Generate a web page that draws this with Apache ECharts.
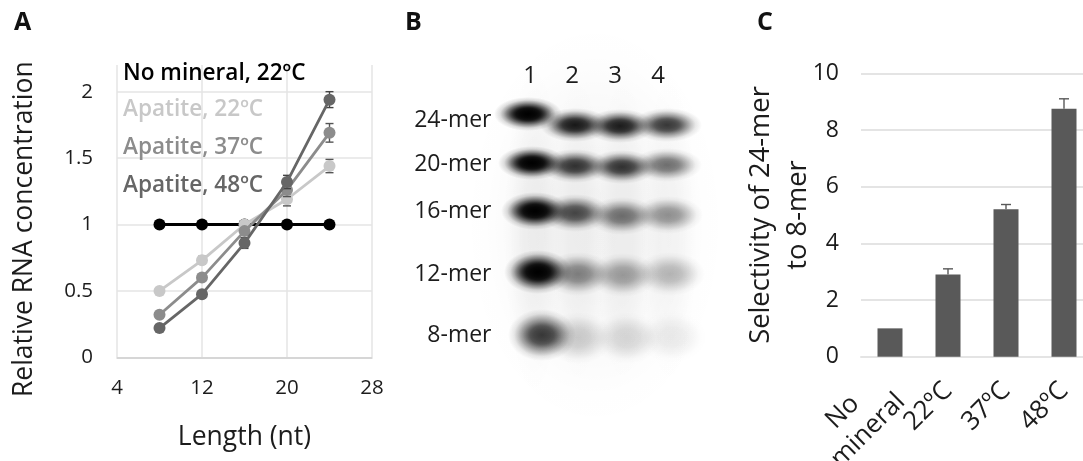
<!DOCTYPE html>
<html><head><meta charset="utf-8">
<script src="https://cdn.jsdelivr.net/npm/echarts@6/dist/echarts.min.js"></script>
<style>html,body{margin:0;padding:0;background:#fff}#c{width:1083px;height:461px;filter:blur(0.45px)}</style>
</head><body><div id="c"></div>
<script>
// Panel A
const lengths = [8, 12, 16, 20, 24];
const noMineral = [1, 1, 1, 1, 1];
const apatite22 = [0.5, 0.73, 1.0, 1.19, 1.44];
const apatite37 = [0.32, 0.6, 0.95, 1.26, 1.69];
const apatite48 = [0.22, 0.475, 0.86, 1.32, 1.94];
const err22 = [0.01, 0.03, 0.01, 0.05, 0.05];
const err37 = [0.01, 0.02, 0.02, 0.05, 0.07];
const err48 = [0.01, 0.02, 0.04, 0.05, 0.06];
const lengthTicks = [4, 12, 20, 28];
const concTicks = [0, 0.5, 1, 1.5, 2];
const merLabels = ['24-mer', '20-mer', '16-mer', '12-mer', '8-mer'];
const merLabelY = [80, 124, 171, 234, 295];
const laneLabels = ['1', '2', '3', '4'];
const laneLabelX = [30, 72, 115, 158];
const laneX = [[28, 32, 35, 38, 42], [75, 75, 75, 78, 78], [120, 122, 122, 123, 127], [167, 167, 168, 170, 172]];
const laneY = [[74, 123, 171, 232, 295], [85, 126, 173, 234, 298], [86, 127, 176, 235, 298], [85, 125, 175, 234, 297]];
const laneDark = [[1, 1, 1, 1, 0.66], [0.8, 0.68, 0.6, 0.4, 0.17], [0.78, 0.68, 0.46, 0.31, 0.13], [0.66, 0.46, 0.35, 0.23, 0.07]];
// Panel C
const selCats = ['No\nmineral', '22ºC', '37ºC', '48ºC'];
const selValues = [1, 2.9, 5.2, 8.75];
const selErr = [0, 0.2, 0.17, 0.35];

const FONT = '"Open Sans", sans-serif';
const TXT = '#1c1c1c';
const GRID = '#e4e4e4';
const C22 = '#c8c8c8', C37 = '#8c8c8c', C48 = '#666666';

function lineSeries(name, vals, color, z) {
  return {name, type: 'line', xAxisIndex: 0, yAxisIndex: 0, z,
    data: lengths.map((x, i) => [x, vals[i]]),
    symbol: 'circle', symbolSize: 12, clip: false,
    lineStyle: {color, width: 2.8}, itemStyle: {color}, animation: false};
}
function errSeries(vals, errs, color, z, xIdx, xs, both, capW) {
  return {type: 'custom', xAxisIndex: xIdx, yAxisIndex: xIdx, z, animation: false, clip: false,
    data: xs.map((x, i) => [xIdx === 2 ? i : x, vals[i], errs[i]]),
    renderItem(params, api) {
      const x = api.value(0), v = api.value(1), e = api.value(2);
      if (!e) return null;
      const hi = api.coord([x, v + e]), lo = api.coord([x, both ? v - e : v]);
      const s = {stroke: color, lineWidth: 1.4, fill: null};
      return {type: 'group', children: [
        {type: 'line', shape: {x1: hi[0], y1: hi[1], x2: lo[0], y2: lo[1]}, style: s},
        {type: 'line', shape: {x1: hi[0] - capW, y1: hi[1], x2: hi[0] + capW, y2: hi[1]}, style: s},
        both ? {type: 'line', shape: {x1: lo[0] - capW, y1: lo[1], x2: lo[0] + capW, y2: lo[1]}, style: s} : {type: 'group'}
      ]};
    }};
}
function blob(dark) {
  const a = Math.min(1, dark);
  const c = al => 'rgba(0,0,0,' + (al * a).toFixed(3) + ')';
  return {type: 'radial', x: 0.5, y: 0.5, r: 0.5, colorStops: [
    {offset: 0, color: c(1)}, {offset: 0.35, color: c(0.86)}, {offset: 0.6, color: c(0.5)},
    {offset: 0.82, color: c(0.13)}, {offset: 1, color: c(0)}]};
}
const rowH = [34, 34, 38, 44, 52];
const bands = [], bandsCore = [];
laneX.forEach((xs, l) => xs.forEach((x, r) => {
  const d = laneDark[l][r];
  bands.push({value: [x, laneY[l][r]], symbolSize: [l === 0 ? 68 : 70, rowH[r]], itemStyle: {color: blob(d), opacity: 1}});
  bandsCore.push({value: [x, laneY[l][r]], symbolSize: [48, rowH[r] * 0.62], itemStyle: {color: blob(d * d * 0.8), opacity: 1}});
}));
const glow = [
  {value: [95, 185], symbolSize: [270, 420], itemStyle: {color: blob(0.04), opacity: 1}},
  {value: [34, 190], symbolSize: [60, 330], itemStyle: {color: blob(0.05), opacity: 1}},
  {value: [78, 190], symbolSize: [60, 320], itemStyle: {color: blob(0.04), opacity: 1}},
  {value: [123, 190], symbolSize: [60, 320], itemStyle: {color: blob(0.04), opacity: 1}},
  {value: [169, 190], symbolSize: [60, 320], itemStyle: {color: blob(0.03), opacity: 1}}
];
const legendItems = [
  ['No mineral, 22ºC', '#000000', 72],
  ['Apatite, 22ºC', C22, 108],
  ['Apatite, 37ºC', C37, 146],
  ['Apatite, 48ºC', C48, 184]
];
const textLabel = (pos, extra) => Object.assign({show: true, position: pos, fontFamily: FONT, fontSize: 23, color: TXT}, extra);

const option = {
  backgroundColor: '#fff', animation: false,
  title: [['A', 14, 10], ['B', 405, 10], ['C', 757, 10]].map(t => ({
    text: t[0], left: t[1], top: t[2], padding: 0,
    textStyle: {fontFamily: FONT, fontSize: 25, fontWeight: 700, color: '#111'}})),
  grid: [
    {left: 117, top: 65.1, width: 255, height: 292.2, outerBoundsMode: 'none'},
    {left: 500, top: 40, width: 220, height: 360, outerBoundsMode: 'none'},
    {left: 861, top: 73.3, width: 232, height: 283.4, outerBoundsMode: 'none'}
  ],
  xAxis: [
    {type: 'value', gridIndex: 0, min: 4, max: 28, interval: 4,
     name: 'Length (nt)', nameLocation: 'middle', nameGap: 67,
     nameTextStyle: {fontFamily: FONT, fontSize: 26.5, color: TXT},
     axisLine: {show: true, onZero: false, lineStyle: {color: '#cfcfcf', width: 1.5}},
     axisTick: {show: false, customValues: lengthTicks},
     axisLabel: {customValues: lengthTicks, fontFamily: FONT, fontSize: 20.5, color: TXT, margin: 20},
     splitLine: {show: true, lineStyle: {color: GRID, width: 1.5}}},
    {type: 'value', gridIndex: 1, min: 0, max: 220, show: false},
    {type: 'category', gridIndex: 2, data: selCats,
     axisLine: {show: true, lineStyle: {color: GRID, width: 2}}, axisTick: {show: false},
     axisLabel: {rotate: 45, interval: 0, fontFamily: FONT, fontSize: 26, lineHeight: 31, color: TXT, margin: 30,
       rich: {t: {fontFamily: FONT, fontSize: 26, color: TXT, lineHeight: 46}},
       formatter: v => v.includes('\n') ? v.replace('No\n', 'No     \n') : '{t|' + v + '}'}}
  ],
  yAxis: [
    {type: 'value', gridIndex: 0, min: 0, max: 2.2, interval: 0.5,
     name: 'Relative RNA concentration', nameLocation: 'middle', nameRotate: 90, nameGap: 79,
     nameTextStyle: {fontFamily: FONT, fontSize: 26.5, color: TXT, padding: [0, 36, 0, 0]},
     axisLine: {show: false}, axisTick: {show: false, customValues: concTicks},
     axisLabel: {customValues: concTicks, fontFamily: FONT, fontSize: 20.5, color: TXT, margin: 24},
     splitLine: {show: true, lineStyle: {color: GRID, width: 1.5}}},
    {type: 'value', gridIndex: 1, min: 0, max: 360, inverse: true, show: false},
    {type: 'value', gridIndex: 2, min: 0, max: 10, interval: 2,
     name: 'Selectivity of 24-mer\nto 8-mer', nameLocation: 'middle', nameRotate: 90, nameGap: 44, nameMoveOverlap: false,
     nameTextStyle: {fontFamily: FONT, fontSize: 27.3, lineHeight: 37, color: TXT},
     axisLine: {show: false}, axisTick: {show: false},
     axisLabel: {fontFamily: FONT, fontSize: 23, color: TXT, margin: 22},
     splitLine: {show: true, lineStyle: {color: GRID, width: 2}}}
  ],
  graphic: legendItems.map(t => ({type: 'text', left: 123, top: t[2] - 10, z: 20,
    style: {text: t[0], fill: t[1], font: '600 22.6px ' + FONT}})),
  series: [
    lineSeries('No mineral, 22ºC', noMineral, '#000000', 3),
    errSeries(apatite22, err22, '#555', 3.5, 0, lengths, true, 4),
    lineSeries('Apatite, 22ºC', apatite22, C22, 4),
    errSeries(apatite37, err37, '#555', 4.5, 0, lengths, true, 4),
    lineSeries('Apatite, 37ºC', apatite37, C37, 5),
    errSeries(apatite48, err48, '#444', 5.5, 0, lengths, true, 4),
    lineSeries('Apatite, 48ºC', apatite48, C48, 6),
    {type: 'scatter', xAxisIndex: 1, yAxisIndex: 1, z: 1, silent: true, data: glow, clip: false},
    {type: 'scatter', xAxisIndex: 1, yAxisIndex: 1, z: 2, silent: true, data: bands, clip: false},
    {type: 'scatter', xAxisIndex: 1, yAxisIndex: 1, z: 3, silent: true, data: bandsCore, clip: false},
    {type: 'scatter', xAxisIndex: 1, yAxisIndex: 1, z: 4, silent: true, symbolSize: 1, clip: false,
     itemStyle: {color: 'transparent', opacity: 1},
     data: merLabels.map((n, i) => ({value: [-8, merLabelY[i]], name: n})),
     label: textLabel('left', {formatter: '{b}', distance: 0})},
    {type: 'scatter', xAxisIndex: 1, yAxisIndex: 1, z: 4, silent: true, symbolSize: 1, clip: false,
     itemStyle: {color: 'transparent', opacity: 1},
     data: laneLabels.map((n, i) => ({value: [laneLabelX[i], 36], name: n})),
     label: textLabel('inside', {formatter: '{b}', fontSize: 24})},
    {type: 'bar', xAxisIndex: 2, yAxisIndex: 2, data: selValues, barWidth: 25, z: 3,
     itemStyle: {color: '#595959'}},
    errSeries(selValues, selErr, '#595959', 2, 2, selCats, false, 5)
  ]
};
const chart = echarts.init(document.getElementById('c'), null, {renderer: 'canvas'});
chart.setOption(option);
</script></body></html>
